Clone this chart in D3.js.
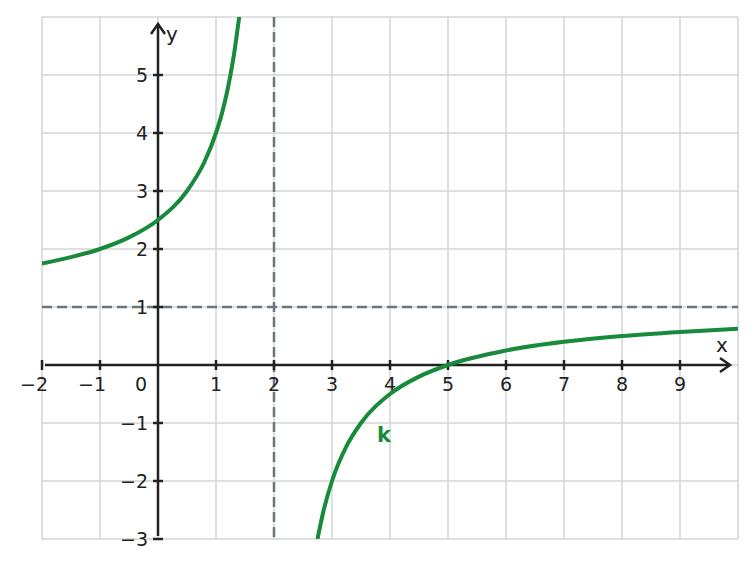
<!DOCTYPE html>
<html><head><meta charset="utf-8">
<script src="https://cdn.jsdelivr.net/npm/d3@7"></script>
<style>body{margin:0;background:#fff}svg{display:block}text{font-family:"DejaVu Sans",sans-serif}</style>
</head><body>
<svg id="c" width="755" height="567"></svg>
<script>
const xTicks = [-2,-1,1,2,3,4,5,6,7,8,9];
const yTicks = [-3,-2,-1,1,2,3,4,5];
const gridX = [-2,-1,0,1,2,3,4,5,6,7,8,9,10];
const gridY = [-3,-2,-1,0,1,2,3,4,5,6];
const branch1X = [-2,-1.5,-1,-0.5,0,0.5,0.8,1,1.1,1.2,1.3,1.4];
const branch1Y = [1.75,1.86,2,2.2,2.5,3,3.5,4,4.33,4.75,5.29,6];
const branch2X = [2.75,2.85,3,3.25,3.5,4,4.5,5,6,7,8,9,10];
const branch2Y = [-3,-2.53,-2,-1.4,-1,-0.5,-0.2,0,0.25,0.4,0.5,0.57,0.625];
const asymX = 2, asymY = 1;

const svg = d3.select("#c");
const x = d3.scaleLinear().domain([-2,10]).range([42,738]);
const y = d3.scaleLinear().domain([-3,6]).range([539,17]);
const ink = "#222", grid = "#d4d4d4", green = "#178a3c", dash = "#6a7680";

svg.append("defs").append("clipPath").attr("id","clip").append("rect")
  .attr("x",x(-2)).attr("y",y(6)).attr("width",x(10)-x(-2)).attr("height",y(-3)-y(6));

const g = svg.append("g");
g.selectAll(".gx").data(gridX).join("line").attr("x1",d=>x(d)).attr("x2",d=>x(d))
  .attr("y1",y(6)).attr("y2",y(-3)).attr("stroke",grid).attr("stroke-width",1.5);
g.selectAll(".gy").data(gridY).join("line").attr("y1",d=>y(d)).attr("y2",d=>y(d))
  .attr("x1",x(-2)).attr("x2",x(10)).attr("stroke",grid).attr("stroke-width",1.5);

// asymptotes
svg.append("line").attr("x1",x(asymX)).attr("x2",x(asymX)).attr("y1",y(6)).attr("y2",y(-3))
  .attr("stroke",dash).attr("stroke-width",2.5).attr("stroke-dasharray","10,5");
svg.append("line").attr("y1",y(asymY)).attr("y2",y(asymY)).attr("x1",x(-2)).attr("x2",x(10))
  .attr("stroke",dash).attr("stroke-width",2.5).attr("stroke-dasharray","10,5");

// axes
const ax = svg.append("g");
ax.append("line").attr("x1",x(-2)+3).attr("x2",x(10)-8).attr("y1",y(0)).attr("y2",y(0))
  .attr("stroke",ink).attr("stroke-width",2.5);
ax.append("path").attr("d",`M${x(10)-18},${y(0)-7} L${x(10)-8},${y(0)} L${x(10)-18},${y(0)+7}`)
  .attr("fill","none").attr("stroke",ink).attr("stroke-width",2.5);
ax.append("line").attr("x1",x(0)).attr("x2",x(0)).attr("y1",y(-3)-3).attr("y2",y(6)+7)
  .attr("stroke",ink).attr("stroke-width",2.5);
ax.append("path").attr("d",`M${x(0)-7},${y(6)+17} L${x(0)},${y(6)+7} L${x(0)+7},${y(6)+17}`)
  .attr("fill","none").attr("stroke",ink).attr("stroke-width",2.5);

ax.selectAll(".tx").data(xTicks).join("line").attr("x1",d=>x(d)).attr("x2",d=>x(d))
  .attr("y1",y(0)-5).attr("y2",y(0)+5).attr("stroke",ink).attr("stroke-width",2.5);
ax.selectAll(".ty").data(yTicks).join("line").attr("y1",d=>y(d)).attr("y2",d=>y(d))
  .attr("x1",x(0)-5).attr("x2",x(0)+5).attr("stroke",ink).attr("stroke-width",2.5);

const fmt = d => d<0 ? "\u2212"+Math.abs(d) : String(d);
ax.selectAll(".lx").data(xTicks).join("text").attr("x",d=>x(d) - (d<0?8:0)).attr("y",y(0)+26)
  .attr("text-anchor","middle").attr("font-size",19).attr("fill",ink).text(fmt);
ax.append("text").attr("x",x(0)-17).attr("y",y(0)+26).attr("text-anchor","middle")
  .attr("font-size",19).attr("fill",ink).text("0");
ax.selectAll(".ly").data(yTicks).join("text").attr("x",x(0)-10).attr("y",d=>y(d)+7)
  .attr("text-anchor","end").attr("font-size",19).attr("fill",ink).text(fmt);
ax.append("text").attr("x",x(10)-16).attr("y",y(0)-13).attr("text-anchor","middle")
  .attr("font-size",20).attr("fill",ink).text("x");
ax.append("text").attr("x",x(0)+14).attr("y",y(6)+24).attr("text-anchor","middle")
  .attr("font-size",20).attr("fill",ink).text("y");

// curve
const line = d3.line().x(d=>x(d[0])).y(d=>y(d[1])).curve(d3.curveMonotoneX);
const cg = svg.append("g").attr("clip-path","url(#clip)");
[[branch1X,branch1Y],[branch2X,branch2Y]].forEach(([bx,by])=>{
  cg.append("path").datum(bx.map((v,i)=>[v,by[i]])).attr("d",line)
    .attr("fill","none").attr("stroke",green).attr("stroke-width",4);
});
svg.append("text").attr("x",x(4)-6).attr("y",y(-1.2)+7).attr("text-anchor","middle")
  .attr("font-size",21).attr("font-weight","bold").attr("fill",green).text("k");
</script>
</body></html>
